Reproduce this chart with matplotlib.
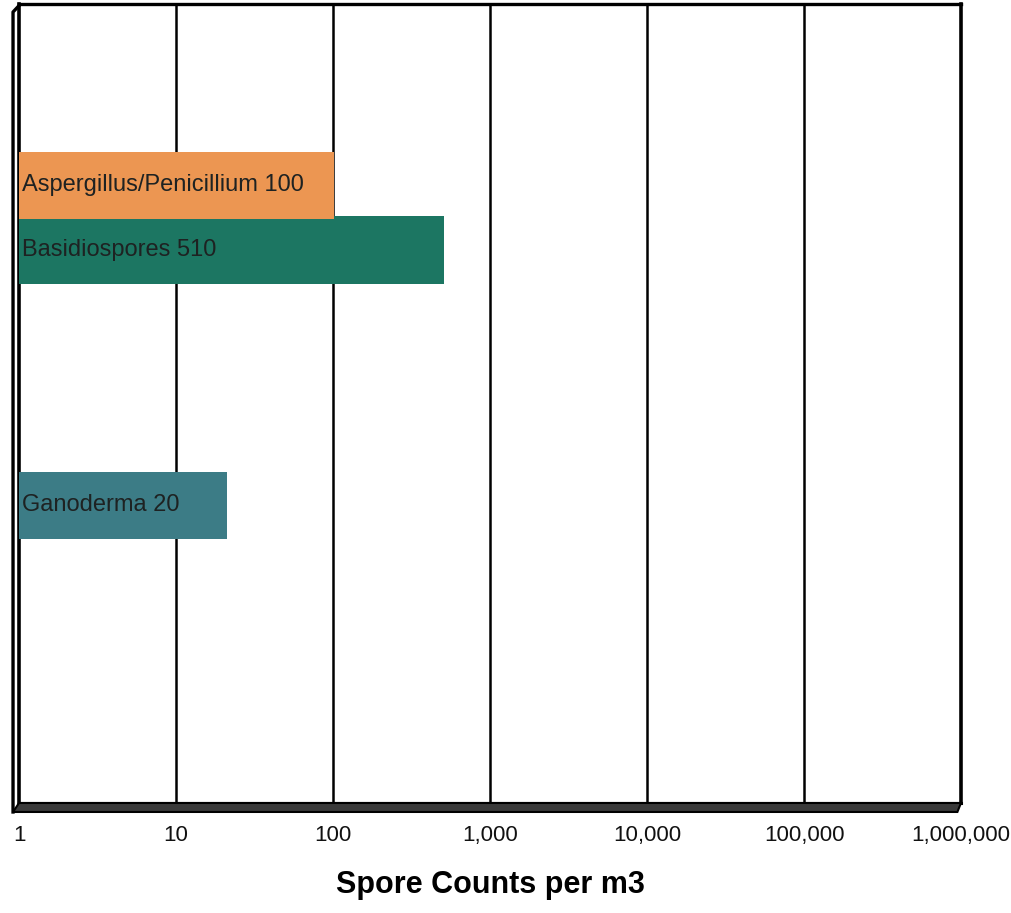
import matplotlib.pyplot as plt
from matplotlib.patches import Polygon
from matplotlib.ticker import FuncFormatter, FixedLocator

# ---------- data ----------
spores = ['Aspergillus/Penicillium', 'Basidiospores', 'Ganoderma']
counts = [100, 510, 20]
bar_colors = ['#EC9652', '#1C7662', '#3C7C86']
decades = [1, 10, 100, 1000, 10000, 100000, 1000000]

# slot of each bar from the top
slots = [0, 1.03, 5.1]

plt.rcParams['font.family'] = ['Liberation Sans', 'DejaVu Sans']

fig = plt.figure(figsize=(10.12, 9.13), dpi=100)
ax = fig.add_axes([0.0188, 0.1205, 0.9308, 0.8751])

# draw green first so orange sits on top
order = [1, 0, 2]
for i in order:
    ax.barh(slots[i], counts[i], left=1, height=1.08, color=bar_colors[i],
            edgecolor='none', zorder=3 + (1 if i == 0 else 0))
    ax.annotate(f'{spores[i]} {counts[i]}', xy=(1, slots[i]), xytext=(2, 0),
                textcoords='offset points', va='center', ha='left',
                fontsize=17, color='#1e2222', zorder=6)

ax.set_xscale('log')
ax.set_xlim(1, 1e6)
ax.set_ylim(9.84, -2.89)
ax.set_yticks([])

ax.xaxis.set_major_locator(FixedLocator(decades))
ax.xaxis.set_minor_locator(FixedLocator([]))
ax.xaxis.set_major_formatter(FuncFormatter(lambda v, p: f'{v:,.0f}'))
ax.tick_params(axis='x', length=0, pad=16, labelsize=16, labelcolor='#111111')

for d in decades[1:-1]:
    ax.axvline(d, color='black', lw=1.8, zorder=2)

ax.spines['top'].set_linewidth(2.4)
ax.spines['right'].set_linewidth(2.6)
ax.spines['left'].set_linewidth(2.6)
ax.spines['bottom'].set_linewidth(2.2)

# 3D-ish wall and floor (front edges offset down-left)
dx, dy = -6 / 942, -9 / 799
floor = Polygon([(0, 0), (1, 0), (1 + dx * 0.6, dy), (dx, dy)],
                closed=True, transform=ax.transAxes, facecolor='#3a3a3a',
                edgecolor='black', lw=1.5, clip_on=False, zorder=5)
ax.add_patch(floor)
ax.plot([dx, dx, 0], [dy, 0.99, 0.998], transform=ax.transAxes,
        color='black', lw=2.4, clip_on=False, zorder=5)

ax.set_xlabel('Spore Counts per m3', fontsize=22, fontweight='bold', labelpad=17)

fig.savefig('out.png', dpi=100)
